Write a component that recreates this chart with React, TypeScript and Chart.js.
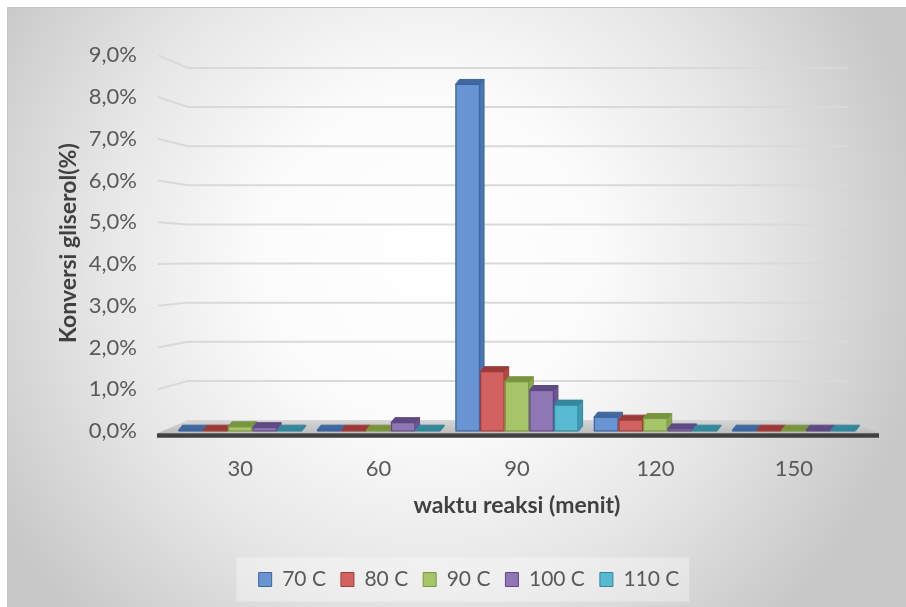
import React, { useEffect, useRef } from 'react';
import { Chart, registerables } from 'chart.js';

Chart.register(...registerables);

const categories = ['30', '60', '90', '120', '150'];
const seriesNames = ['70 C', '80 C', '90 C', '100 C', '110 C'];
const values70 = [0.02, 0.02, 8.3, 0.33, 0.02];
const values80 = [0.02, 0.02, 1.42, 0.26, 0.02];
const values90 = [0.1, 0.02, 1.18, 0.3, 0.02];
const values100 = [0.08, 0.2, 0.97, 0.05, 0.02];
const values110 = [0.02, 0.02, 0.62, 0.02, 0.02];
const seriesValues = [values70, values80, values90, values100, values110];

const frontColors = ['#6894d4', '#d2625f', '#a6c468', '#8f77b5', '#58bad0'];
const topColors = ['#41689f', '#9c3a38', '#78943e', '#5f4a82', '#35879c'];
const sideColors = ['#4a77b6', '#b04a48', '#89a94c', '#6d5694', '#3e9bb2'];
const borderColors = ['#3d649e', '#9e3c3a', '#7a9640', '#5e4982', '#32869b'];

const yMin = 0;
const yMax = 9;
const yStep = 1;

const FONT = 'Lato, "Open Sans", sans-serif';

const threeDPlugin = {
  id: 'threeD',
  beforeDraw(chart: any) {
    const { ctx, chartArea: a, scales } = chart;
    const y = scales.y;
    const y0 = y.getPixelForValue(0);
    ctx.save();
    // legend backdrop
    const boxes = chart.legend && chart.legend.legendHitBoxes;
    if (boxes && boxes.length) {
      const l = Math.min(...boxes.map((b: any) => b.left));
      const r = Math.max(...boxes.map((b: any) => b.left + b.width));
      const cy = boxes[0].top + boxes[0].height / 2;
      ctx.fillStyle = 'rgba(255,255,255,0.35)';
      ctx.fillRect(l - 22, cy - 22, r - l + 32, 44);
    }
    // back wall + side wall gridlines
    ctx.strokeStyle = '#d9d9d9';
    ctx.lineWidth = 2;
    y.ticks.forEach((t: any) => {
      if (t.value <= 0) return;
      const py = y.getPixelForValue(t.value);
      const pb = y0 - 11 + (py - y0) * 0.937;
      ctx.beginPath();
      ctx.moveTo(a.left - 13, py);
      ctx.lineTo(a.left + 17, pb);
      ctx.lineTo(a.right - 15, pb);
      ctx.stroke();
    });
    // floor
    ctx.beginPath();
    ctx.moveTo(a.left + 17, y0 - 11);
    ctx.lineTo(a.right - 15, y0 - 11);
    ctx.lineTo(a.right + 15, y0 + 2);
    ctx.lineTo(a.left - 13, y0 + 2);
    ctx.closePath();
    const g = ctx.createLinearGradient(0, y0 - 11, 0, y0 + 2);
    g.addColorStop(0, '#d6d6d6');
    g.addColorStop(1, '#bdbdbd');
    ctx.fillStyle = g;
    ctx.fill();
    // base line
    ctx.strokeStyle = '#404040';
    ctx.lineWidth = 4.5;
    ctx.beginPath();
    ctx.moveTo(a.left - 14, y0 + 4.5);
    ctx.lineTo(a.right + 16, y0 + 4.5);
    ctx.stroke();
    ctx.restore();
  },
  beforeDatasetDraw() {
    return false;
  },
  afterDatasetsDraw(chart: any) {
    const { ctx } = chart;
    const dx = 4;
    const dy = 5;
    ctx.save();
    chart.data.datasets.forEach((ds: any, i: number) => {
      const meta = chart.getDatasetMeta(i);
      meta.data.forEach((bar: any) => {
        const { x, y, base, width } = bar.getProps(['x', 'y', 'base', 'width'], true);
        const l = x - width / 2;
        const r = x + width / 2;
        ctx.beginPath();
        ctx.moveTo(r, y);
        ctx.lineTo(r + dx, y - dy);
        ctx.lineTo(r + dx, base - dy);
        ctx.lineTo(r, base);
        ctx.closePath();
        ctx.fillStyle = sideColors[i];
        ctx.fill();
        ctx.strokeStyle = borderColors[i];
        ctx.lineWidth = 1;
        ctx.stroke();
        ctx.beginPath();
        ctx.moveTo(l, y);
        ctx.lineTo(r, y);
        ctx.lineTo(r + dx, y - dy);
        ctx.lineTo(l + dx, y - dy);
        ctx.closePath();
        ctx.fillStyle = topColors[i];
        ctx.fill();
        ctx.stroke();
        ctx.fillStyle = frontColors[i];
        ctx.fillRect(l, y, width, base - y);
        ctx.strokeStyle = borderColors[i];
        ctx.lineWidth = 1.2;
        ctx.strokeRect(l + 0.6, y, width - 1.2, base - y);
      });
    });
    ctx.restore();
  },
};

export default function App() {
  const canvasRef = useRef<HTMLCanvasElement | null>(null);

  useEffect(() => {
    if (!canvasRef.current) return;
    const chart = new Chart(canvasRef.current, {
      type: 'bar',
      data: {
        labels: categories,
        datasets: seriesValues.map((vals, i) => ({
          label: seriesNames[i],
          data: vals,
          backgroundColor: frontColors[i],
          borderColor: borderColors[i],
          borderWidth: 1,
          categoryPercentage: 0.89,
          barPercentage: 1,
        })),
      },
      options: {
        animation: false,
        responsive: false,
        maintainAspectRatio: false,
        layout: { padding: { left: 67, right: 43, top: 37, bottom: 7 } },
        plugins: {
          legend: {
            position: 'bottom',
            labels: {
              boxWidth: 13,
              boxHeight: 14,
              padding: 15,
              color: '#595959',
              font: { family: FONT, size: 21 },
            },
          },
          tooltip: { enabled: false },
        },
        scales: {
          x: {
            grid: { display: false, drawTicks: false },
            border: { display: false },
            ticks: {
              color: '#595959',
              padding: 25,
              font: { family: FONT, size: 22 },
            },
            title: {
              display: true,
              text: 'waktu reaksi (menit)',
              color: '#404040',
              font: { family: FONT, size: 23, weight: 'bold' },
              padding: { top: 0, bottom: 35 },
            },
            afterFit: (s: any) => {
              s.height = 123;
            },
          },
          y: {
            min: yMin,
            max: yMax,
            grid: { display: false, drawTicks: false },
            border: { display: false },
            ticks: {
              stepSize: yStep,
              color: '#595959',
              padding: 34,
              font: { family: FONT, size: 22 },
              callback: (v: any) => Number(v).toFixed(1).replace('.', ',') + '%',
            },
            title: {
              display: true,
              text: 'Konversi gliserol(%)',
              color: '#404040',
              font: { family: FONT, size: 23, weight: 'bold' },
              padding: { top: -20, bottom: 0 },
            },
            afterFit: (s: any) => {
              s.width = 96;
            },
          },
        },
      },
      plugins: [threeDPlugin],
    } as any);
    return () => chart.destroy();
  }, []);

  return (
    <div
      style={{
        position: 'absolute',
        left: 7,
        top: 7,
        width: 899,
        height: 600,
        boxSizing: 'border-box',
        borderTop: '1px solid #c4c4c4',
        borderLeft: '1px solid #c4c4c4',
        background:
          'radial-gradient(circle at 420px 250px, #ffffff 0px, #fbfbfb 170px, #e6e6e6 330px, #c8c8c8 500px)',
      }}
    >
      <canvas ref={canvasRef} width={898} height={599} style={{ display: 'block' }} />
    </div>
  );
}
